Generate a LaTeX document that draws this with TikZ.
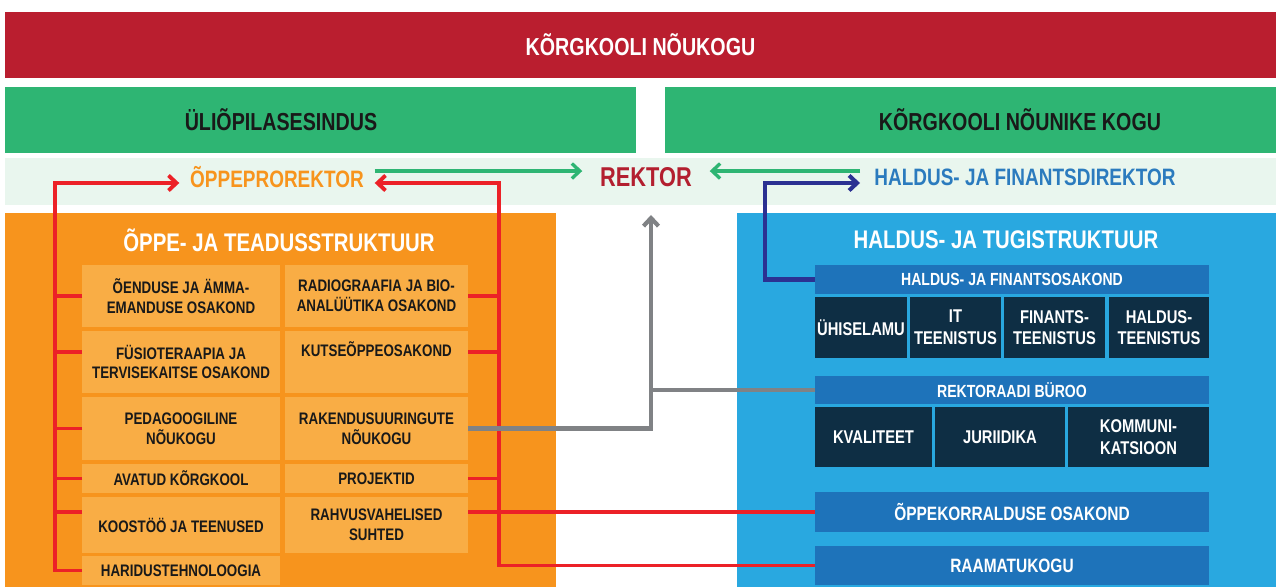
\documentclass[tikz,border=0pt]{standalone}
\usepackage{fontspec}
\setmainfont{Liberation Sans}[FakeStretch=0.8]
\usepackage{tikz}
\usetikzlibrary{arrows.meta,positioning}
\definecolor{councilred}{HTML}{BA1E2F}
\definecolor{bandgreen}{HTML}{2EB573}
\definecolor{rowmint}{HTML}{E9F6EE}
\definecolor{studyorange}{HTML}{F7941D}
\definecolor{unitorange}{HTML}{F9AD45}
\definecolor{supportblue}{HTML}{29A8E0}
\definecolor{barblue}{HTML}{1E73BA}
\definecolor{unitnavy}{HTML}{0E2E44}
\definecolor{rektorred}{HTML}{B31F2F}
\definecolor{directorblue}{HTML}{2B7BBE}
\definecolor{linkred}{HTML}{EC2127}
\definecolor{linknavy}{HTML}{2B3192}
\definecolor{linkgrey}{HTML}{808285}
\newcommand{\pxu}{0.02cm}

\begin{document}
\begin{tikzpicture}[
  x=0.02cm, y=-0.02cm,
  font=\bfseries,
  dims/.style 2 args={minimum width=#1*\pxu, minimum height=#2*\pxu},
  panel/.style={anchor=north west, inner sep=0, outer sep=0},
  head/.style={font=\bfseries\fontsize{14}{16}\selectfont, text=black!90, inner sep=0},
  unit/.style={panel, fill=unitorange, align=center, text=black!90,
               font=\bfseries\fontsize{9.5}{11.3}\selectfont},
  bar/.style={panel, fill=barblue, align=center, text=white,
              font=\bfseries\fontsize{10}{12}\selectfont},
  navy/.style={panel, fill=unitnavy, align=center, text=white,
               font=\bfseries\fontsize{10.5}{12.3}\selectfont},
  >={Straight Barb[length=1.6mm, width=3mm]},
  gflow/.style={->, line width=1.9pt, draw=bandgreen},
  rline/.style={line width=2.2pt, draw=linkred},
  rflow/.style={->, rline},
  nflow/.style={->, line width=2.3pt, draw=linknavy},
  greyline/.style={line width=2.4pt, draw=linkgrey},
  greyflow/.style={->, greyline},
]
\useasboundingbox (0,0) rectangle (1276,587);
% ----- councils -----
\node[panel, dims={1271}{66}, fill=councilred, head, text=white] (council) at (5,12) {KÕRGKOOLI NÕUKOGU};
\node[panel, dims={631}{66}, fill=bandgreen] (studband) at (5,87) {};
\node[head] (stud) at (281,120) {ÜLIÕPILASESINDUS};
\node[panel, dims={611}{66}, fill=bandgreen] (advband) at (665,87) {};
\node[head] (adv) at (1020,120) {KÕRGKOOLI NÕUNIKE KOGU};
% ----- management row -----
\node[panel, dims={1271}{47}, fill=rowmint] (mgmt) at (5,158) {};
\node[head, text=studyorange, font=\bfseries\fontsize{13.5}{16}\selectfont, inner xsep=6pt] (vice) at (277,177) {ÕPPEPROREKTOR};
\node[head, text=rektorred, font=\bfseries\fontsize{15.5}{18}\selectfont, inner xsep=10pt] (rector) at (646,177) {REKTOR};
\node[head, text=directorblue, font=\bfseries\fontsize{13.5}{16}\selectfont, inner xsep=8pt] (director) at (1025,177) {HALDUS- JA FINANTSDIREKTOR};
% ----- study and research structure -----
\node[panel, dims={551}{374}, fill=studyorange] (study) at (5,213) {};
\node[head, text=white, font=\bfseries\fontsize{14.5}{17}\selectfont] (studyttl) at (279,240) {ÕPPE- JA TEADUSSTRUKTUUR};
\node[unit, dims={198}{62}] (nursing) at (82,265) {ÕENDUSE JA ÄMMA-\\EMANDUSE OSAKOND};
\node[unit, dims={183}{62}, right=0.1cm of nursing] (radio) {RADIOGRAAFIA JA BIO-\\ANALÜÜTIKA OSAKOND};
\node[unit, dims={198}{62}] (physio) at (82,331) {FÜSIOTERAAPIA JA\\TERVISEKAITSE OSAKOND};
\node[unit, dims={183}{62}, right=0.1cm of physio] (vocat) {KUTSEÕPPEOSAKOND\\\strut};
\node[unit, dims={198}{63}] (pedag) at (82,397) {PEDAGOOGILINE\\NÕUKOGU};
\node[unit, dims={183}{63}, right=0.1cm of pedag] (applied) {RAKENDUSUURINGUTE\\NÕUKOGU};
\node[unit, dims={198}{29}] (open) at (82,464) {AVATUD KÕRGKOOL};
\node[unit, dims={183}{29}, right=0.1cm of open] (projects) {PROJEKTID};
\node[unit, dims={198}{56}] (coop) at (82,497) {KOOSTÖÖ JA TEENUSED};
\node[unit, dims={183}{56}, right=0.1cm of coop] (intl) {RAHVUSVAHELISED\\SUHTED};
\node[unit, dims={198}{29}] (edtech) at (82,556) {HARIDUSTEHNOLOOGIA};
% ----- administration and support structure -----
\node[panel, dims={539}{374}, fill=supportblue] (support) at (737,213) {};
\node[head, text=white, font=\bfseries\fontsize{14.5}{17}\selectfont] (supportttl) at (1006,240) {HALDUS- JA TUGISTRUKTUUR};
\node[bar, dims={394}{29}] (finunit) at (815,265) {HALDUS- JA FINANTSOSAKOND};
\node[navy, dims={92}{61}] (dorm) at (815,297) {ÜHISELAMU};
\node[navy, dims={91}{61}, right=0.06cm of dorm] (itsrv) {IT\\TEENISTUS};
\node[navy, dims={101}{61}, right=0.06cm of itsrv] (finsrv) {FINANTS-\\TEENISTUS};
\node[navy, dims={100}{61}, right=0.08cm of finsrv] (admsrv) {HALDUS-\\TEENISTUS};
\node[bar, dims={394}{28}] (office) at (815,376) {REKTORAADI BÜROO};
\node[navy, dims={117}{60}] (quality) at (815,407) {KVALITEET};
\node[navy, dims={130}{60}, right=0.06cm of quality] (legal) {JURIIDIKA};
\node[navy, dims={141}{60}, right=0.06cm of legal] (comms) {KOMMUNI-\\KATSIOON};
\node[bar, dims={394}{40}, font=\bfseries\fontsize{11}{13}\selectfont] (studyadm) at (815,492) {ÕPPEKORRALDUSE OSAKOND};
\node[bar, dims={394}{39}, font=\bfseries\fontsize{11}{13}\selectfont] (library) at (815,546) {RAAMATUKOGU};
% ----- links -----
\coordinate (lspine) at (55,183);
\coordinate (rspine) at (499,183);
\coordinate (nspine) at (765,183);
\coordinate (gtip) at (651,215);
\draw[gflow] ([yshift=3.4pt]vice.east) -- ([yshift=3.4pt]vice.east -| rector.west);
\draw[gflow] ([yshift=3.4pt]director.west) -- ([yshift=3.4pt]director.west -| rector.east);
\draw[rflow] (edtech.west) -| (lspine) -- (lspine -| vice.west);
\foreach \u in {nursing,pedag,open} \draw[rline] (\u.west) -- (\u.west -| lspine);
\draw[rline] ([yshift=5.7pt]physio.west) -- ([yshift=5.7pt]physio.west -| lspine);
\draw[rline] (coop.west |- studyadm.west) -- (lspine |- studyadm.west);
\foreach \u in {radio,projects} \draw[rline] (\u.east) -- (\u.east -| rspine);
\draw[rline] ([yshift=5.7pt]vocat.east) -- ([yshift=5.7pt]vocat.east -| rspine);
\draw[rline] (intl.east |- studyadm.west) -- (studyadm.west);
\draw[rflow] (library.west) -| (rspine) -- (rspine -| vice.east);
\draw[nflow] (finunit.west) -| (nspine) -- (nspine -| director.west);
\draw[greyflow] (applied.east) -| (gtip);
\draw[greyline] (office.west) -- (office.west -| gtip);
\end{tikzpicture}
\end{document}
